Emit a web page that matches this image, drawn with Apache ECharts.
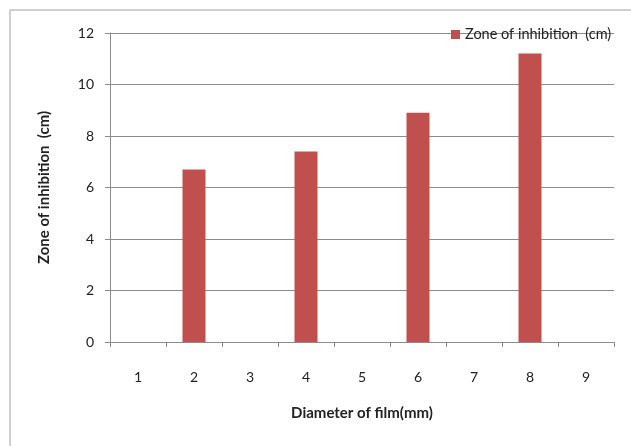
<!DOCTYPE html>
<html>
<head>
<meta charset="utf-8">
<script src="https://cdn.jsdelivr.net/npm/echarts@6/dist/echarts.min.js"></script>
<style>
  html, body { margin: 0; padding: 0; background: #fff; }
  #chart { width: 631px; height: 446px; }
</style>
</head>
<body>
<div id="chart"></div>
<script>
// Film diameter categories and measured inhibition zones
const categories = ['1', '2', '3', '4', '5', '6', '7', '8', '9'];
const zoneValues = [null, 6.7, null, 7.4, null, 8.9, null, 11.2, null];
const seriesName = 'Zone of inhibition  (cm)';

const FONT = 'Lato, "Open Sans", sans-serif';
const axisGray = '#8c8c8c';

const chart = echarts.init(document.getElementById('chart'), null, { renderer: 'canvas' });

chart.setOption({
  animation: false,
  backgroundColor: '#ffffff',
  graphic: [{
    type: 'rect',
    shape: { x: 10, y: 10, width: 700, height: 500 },
    style: { fill: 'none', stroke: '#a0a0a0', lineWidth: 1 },
    silent: true,
    z: -1
  }],
  grid: { left: 110, right: 17, top: 33, bottom: 104, containLabel: false },
  legend: {
    data: [seriesName],
    left: 446,
    top: 22,
    itemWidth: 9,
    itemHeight: 9,
    itemGap: 4,
    icon: 'rect',
    textStyle: { fontFamily: FONT, fontSize: 14.5, color: '#222' }
  },
  xAxis: {
    type: 'category',
    data: categories,
    name: 'Diameter of film(mm)',
    nameLocation: 'middle',
    nameGap: 64,
    nameTextStyle: { fontFamily: FONT, fontSize: 15, fontWeight: 'bold', color: '#222' },
    axisLine: { lineStyle: { color: axisGray, width: 1 } },
    axisTick: { show: true, length: 5, lineStyle: { color: axisGray } },
    axisLabel: { fontFamily: FONT, fontSize: 14, color: '#222', margin: 28 },
    splitLine: { show: false }
  },
  yAxis: {
    type: 'value',
    min: 0,
    max: 12,
    interval: 2,
    name: 'Zone of inhibition  (cm)',
    nameLocation: 'middle',
    nameGap: 58,
    nameTextStyle: { fontFamily: FONT, fontSize: 15, fontWeight: 'bold', color: '#222' },
    axisLine: { show: true, lineStyle: { color: axisGray, width: 1 } },
    axisTick: { show: true, length: 5, lineStyle: { color: axisGray } },
    axisLabel: { fontFamily: FONT, fontSize: 14, color: '#222', margin: 16 },
    splitLine: { show: true, lineStyle: { color: axisGray, width: 1 } }
  },
  series: [{
    name: seriesName,
    type: 'bar',
    data: zoneValues,
    barWidth: 23,
    itemStyle: { color: '#C0504D' }
  }]
});
</script>
</body>
</html>
